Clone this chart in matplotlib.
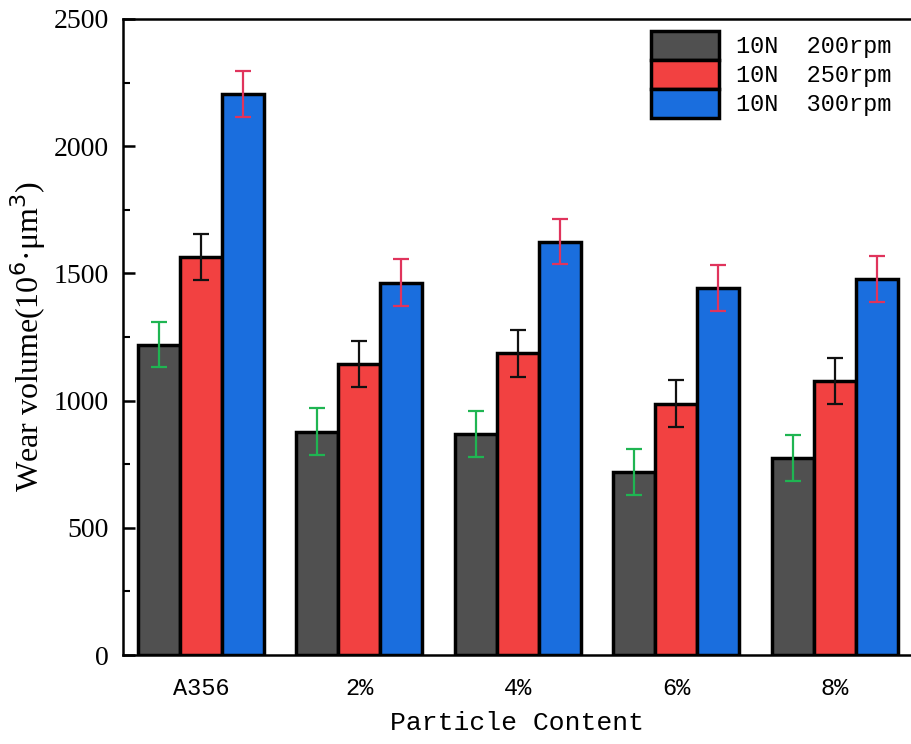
import numpy as np
import matplotlib
matplotlib.use('Agg')
import matplotlib.pyplot as plt
from matplotlib.ticker import MultipleLocator

categories = ['A356', '2%', '4%', '6%', '8%']
series = ['10N  200rpm', '10N  250rpm', '10N  300rpm']
v200 = [1220, 878, 870, 719, 775]
v250 = [1565, 1144, 1185, 988, 1078]
v300 = [2205, 1464, 1625, 1442, 1477]
e200 = [90, 92, 90, 90, 90]
e250 = [90, 90, 92, 92, 91]
e300 = [90, 92, 90, 90, 91]

colors = ['#505050', '#f24141', '#1a6ede']
ecolors = ['#1fb552', '#111111', '#e0345c']

mono = 'Liberation Mono'
serif = 'Liberation Serif'

fig = plt.figure(figsize=(9.11, 7.44), dpi=100)
ax = fig.add_axes([0.135, 0.1196, 0.865, 0.855])

x = np.arange(len(categories))
w = 0.265
for k, (vals, errs) in enumerate([(v200, e200), (v250, e250), (v300, e300)]):
    ax.bar(x + (k - 1) * w, vals, w, color=colors[k], edgecolor='black',
           linewidth=2.5, label=series[k], zorder=2)
    ax.errorbar(x + (k - 1) * w, vals, yerr=errs, fmt='none', ecolor=ecolors[k],
                elinewidth=1.6, capsize=6, capthick=1.6, zorder=3)

ax.set_xlim(-0.492, 4.48)
ax.set_ylim(0, 2500)
ax.yaxis.set_major_locator(MultipleLocator(500))
ax.yaxis.set_minor_locator(MultipleLocator(250))
ax.set_xticks(x)
ax.set_xticklabels(categories, fontfamily=mono, fontsize=17)
for t in ax.get_yticklabels():
    t.set_fontfamily(serif)
    t.set_fontsize(20)
ax.tick_params(axis='both', which='major', direction='in', length=8.5, width=1.8)
ax.tick_params(axis='y', which='minor', direction='in', length=5, width=1.5)
ax.tick_params(axis='x', pad=16)
ax.tick_params(axis='y', pad=10)

for s in ['left', 'bottom', 'top']:
    ax.spines[s].set_linewidth(1.8)
ax.spines['right'].set_visible(False)

ax.set_xlabel('Particle Content', fontfamily=mono, fontsize=19, labelpad=8)
ax.set_ylabel('Wear volume(10$^{6}$·μm$^{3}$)', fontfamily=serif, fontsize=23, labelpad=4)

leg = ax.legend(loc='upper left', bbox_to_anchor=(0.715, 0.958),
                bbox_transform=fig.transFigure, frameon=False,
                prop={'family': mono, 'size': 17}, handlelength=2.85,
                handleheight=1.5, labelspacing=0.0, handletextpad=0.75,
                borderpad=0, borderaxespad=0)

fig.savefig('out.png', dpi=100)
